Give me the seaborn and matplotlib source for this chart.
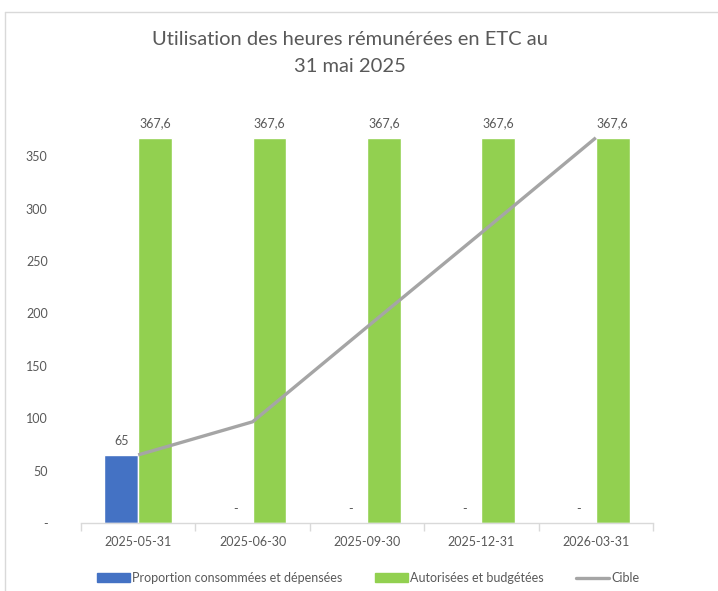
import pandas as pd
import numpy as np
import matplotlib.pyplot as plt
import seaborn as sns
from matplotlib.lines import Line2D
from matplotlib.patches import Patch

# data
dates = ["2025-05-31", "2025-06-30", "2025-09-30", "2025-12-31", "2026-03-31"]
consommees = [65, 0, 0, 0, 0]
autorisees = [367.6, 367.6, 367.6, 367.6, 367.6]
cible = [65, 96.6, 187, 277, 367.6]

serie_conso = "Proportion consommées et dépensées"
serie_auto = "Autorisées et budgétées"

df = pd.DataFrame({
    "date": dates * 2,
    "serie": [serie_conso] * len(dates) + [serie_auto] * len(dates),
    "valeur": consommees + autorisees,
})

sns.set_theme(style="white")
plt.rcParams['font.family'] = ['Lato', 'DejaVu Sans']
txt = "#595959"

fig = plt.figure(figsize=(7.18, 5.91), dpi=100)
ax = fig.add_axes([0.1128, 0.115, 0.7967, 0.665])

sns.barplot(data=df, x="date", y="valeur", hue="serie",
            palette=["#4472C4", "#92D050"], width=0.59, gap=0,
            saturation=1, ax=ax, legend=False)

ax.plot(range(len(dates)), cible, color="#A5A5A5", lw=2.4, zorder=5,
        solid_capstyle="butt")


def fmt(v):
    if v == 0:
        return "-"
    if float(v).is_integer():
        return f"{int(v)}"
    return f"{v:.1f}".replace(".", ",")


for cont in ax.containers:
    ax.bar_label(cont, labels=[fmt(b.get_height()) for b in cont],
                 padding=6, fontsize=9, color=txt)

ax.set_ylim(0, 375)
ax.set_xlim(-0.5, len(dates) - 0.5)
ax.set_yticks([0, 50, 100, 150, 200, 250, 300, 350])
ax.set_yticklabels(["-" if t == 0 else str(t) for t in ax.get_yticks()])
ax.set_xlabel("")
ax.set_ylabel("")

for s in ["left", "right", "top"]:
    ax.spines[s].set_visible(False)
ax.spines["bottom"].set_color("#D9D9D9")
ax.spines["bottom"].set_linewidth(1)

ax.tick_params(axis="y", length=0, pad=24, labelsize=9, labelcolor=txt)
ax.tick_params(axis="x", which="major", length=0, pad=9, labelsize=9,
               labelcolor=txt)
ax.set_xticks(np.arange(-0.5, len(dates)), minor=True)
ax.tick_params(axis="x", which="minor", length=6, width=1, color="#D9D9D9",
               bottom=True, direction="out")

fig.suptitle("Utilisation des heures rémunérées en ETC au\n31 mai 2025",
             x=0.487, y=0.948, fontsize=14.5, color=txt, linespacing=1.75)

handles = [
    Patch(color="#4472C4", label=serie_conso),
    Patch(color="#92D050", label=serie_auto),
    Line2D([], [], color="#A5A5A5", lw=2.4, label="Cible"),
]
fig.legend(handles=handles, loc="center", bbox_to_anchor=(0.513, 0.022),
           ncol=3, frameon=False, fontsize=9, labelcolor=txt,
           handlelength=2.6, handleheight=0.7, handletextpad=0.2,
           columnspacing=2.6)

# chart area border (left and top edges visible in the reference)
fig.add_artist(Line2D([5 / 718, 5 / 718], [0, 1 - 12 / 591],
                      transform=fig.transFigure, color="#D9D9D9", lw=1))
fig.add_artist(Line2D([5 / 718, 1], [1 - 12 / 591, 1 - 12 / 591],
                      transform=fig.transFigure, color="#D9D9D9", lw=1))

fig.savefig("out.png", dpi=100)
